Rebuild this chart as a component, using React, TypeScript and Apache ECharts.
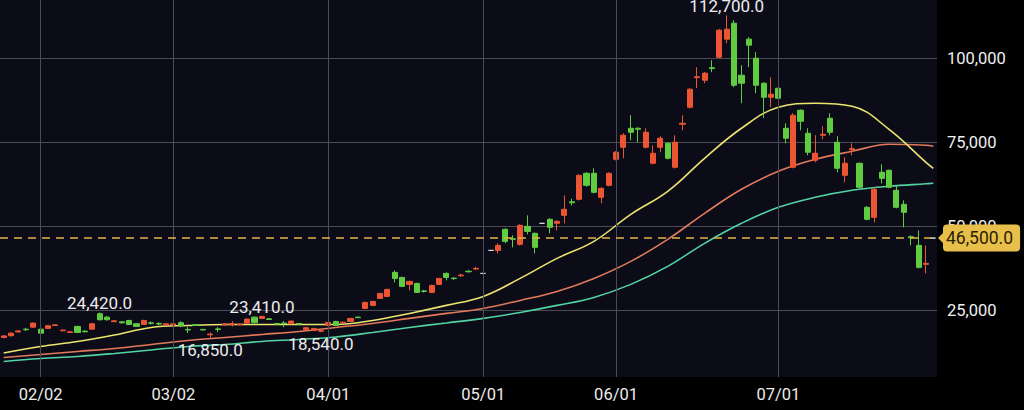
import React, { useEffect, useRef } from 'react';
import * as echarts from 'echarts';

// [open, close, low, high] per trading day
const ohlc: number[][] = [
  [16960, 17410, 16700, 17700], [17470, 18240, 17260, 18450], [18600, 18900, 18450, 19050], [19400, 19250, 18900, 19800],
  [20030, 21220, 19800, 21400], [19430, 18240, 18000, 19600], [19640, 20450, 19500, 20650], [20500, 20700, 20350, 20850],
  [18950, 19150, 18800, 19350], [18450, 18650, 18300, 18800], [20240, 18450, 18300, 20400], [18850, 18650, 18500, 19000],
  [19430, 21040, 19300, 21200], [24020, 22230, 22000, 24420], [23000, 22230, 22000, 23300], [21650, 21900, 21500, 22100],
  [21600, 21300, 21150, 21750], [22020, 20830, 20700, 22150], [21040, 20240, 20100, 21200], [20830, 22020, 20700, 22200],
  [21300, 21150, 20800, 21700], [21100, 20950, 20600, 21500], [20650, 21000, 20500, 21150], [20650, 21000, 20500, 21150],
  [21340, 20450, 20000, 21800], [19350, 19200, 18250, 20030], [20700, 20550, 20400, 20850], [19350, 19200, 19050, 19500],
  [17750, 17950, 16850, 18400], [19500, 19350, 18550, 20030], [20650, 21000, 20500, 21150], [20700, 21050, 20240, 21800],
  [20750, 20950, 20600, 21100], [21220, 22410, 21050, 22600], [23000, 21340, 21200, 23200], [22620, 23210, 22500, 23410],
  [22500, 22300, 22150, 22700], [21100, 20950, 20800, 21300], [21250, 21100, 20030, 21820], [21040, 21820, 20900, 22000],
  [21100, 20950, 20800, 21250], [19250, 19850, 19100, 20000], [19050, 19640, 18900, 19800], [18800, 18950, 18540, 19200],
  [20530, 21430, 20400, 21600], [21720, 20530, 20400, 21900], [21300, 21500, 21200, 21650], [21720, 22620, 21600, 22800],
  [23000, 22850, 22700, 23150], [25590, 27380, 25400, 27600], [26490, 27680, 26300, 27850], [28570, 30060, 28400, 30200],
  [29160, 31250, 29000, 31450], [36310, 34520, 33330, 36900], [34820, 32140, 31900, 35000], [32740, 33630, 30950, 33800],
  [33030, 30360, 30200, 33200], [30800, 30650, 30300, 31100], [30360, 32440, 30200, 32600], [32740, 34520, 32600, 34700],
  [36010, 34820, 33930, 36300], [34600, 34450, 34100, 34900], [35300, 35500, 35000, 35900], [36650, 36500, 36200, 37000],
  [37300, 37500, 37000, 38000], [36000, 36000, 35600, 36400], [42850, 42850, 42850, 42850], [42850, 44340, 41960, 44940],
  [49100, 45530, 45000, 49400], [46300, 46150, 43750, 47320], [44640, 50290, 44300, 50600], [49990, 48500, 47600, 53270],
  [47910, 43750, 41960, 48200], [50890, 50890, 50890, 50890], [52080, 49700, 47910, 52400], [50890, 51480, 48800, 51800],
  [53270, 55060, 50890, 59220], [57300, 57000, 56200, 58200], [58030, 65170, 57700, 65500], [65770, 62200, 61800, 66100],
  [65770, 60120, 59800, 67260], [58630, 61310, 56840, 61600], [62200, 65770, 61900, 66100], [69940, 72020, 69600, 72400],
  [73510, 77080, 70230, 77670], [79160, 77970, 75590, 83030], [79160, 78860, 75000, 79460], [73510, 77970, 73200, 79160],
  [68750, 71720, 68400, 74100], [73510, 76190, 72020, 76780], [74700, 70230, 69900, 75000], [67560, 75000, 67200, 77080],
  [80350, 80650, 78570, 83030], [85410, 90770, 85000, 91100], [94200, 94500, 91070, 97320], [93450, 95530, 92550, 95900],
  [97160, 96900, 95830, 99400], [100290, 108330, 100000, 108700], [105650, 108620, 104460, 112700], [110410, 91960, 91360, 111300],
  [94930, 92550, 86600, 97910], [105650, 103860, 97320, 106240], [99990, 91960, 89580, 101780], [92550, 88390, 82140, 92850],
  [88390, 89280, 85410, 94340], [91070, 88090, 85410, 92850], [79160, 76190, 74700, 80650], [67560, 83030, 67260, 83630],
  [84520, 81240, 78570, 84800], [77670, 72020, 71130, 79160], [69640, 71720, 69040, 77080], [77080, 77370, 75890, 79760],
  [82140, 77970, 77080, 83630], [75000, 67260, 66070, 76780], [65170, 68750, 63090, 70530], [72800, 73100, 71130, 74700],
  [68750, 61600, 61300, 69000], [55650, 52080, 51800, 56000], [52680, 61010, 51190, 61600], [66070, 64280, 62790, 68450],
  [66660, 61600, 61300, 66900], [60710, 55650, 55350, 62200], [56540, 54160, 49700, 57730], [46900, 46600, 44340, 47320],
  [44340, 37800, 37500, 48800], [38700, 39000, 36000, 44340], [46500, 46500, 46500, 46500],
];

const tickIndex = [5, 23, 44, 65, 83, 105];
const tickLabels = ['02/02', '03/02', '04/01', '05/01', '06/01', '07/01'];
const yTicks = [25000, 50000, 75000, 100000];

// moving averages: [candle index, value]
const maShort: number[][] = [
  [0, 12350], [5, 14290], [10, 15770], [15, 17700], [20, 19940], [25, 20530], [30, 20830], [35, 20830], [40, 20830],
  [45, 20830], [50, 22020], [55, 24100], [60, 26490], [65, 29160], [70, 34520], [75, 40470], [80, 45530], [85, 53570],
  [90, 60410], [95, 70230], [100, 79160], [105, 85410], [110, 86600], [115, 85710], [120, 78860], [125, 69040], [126, 67260],
];
const maMid: number[][] = [
  [0, 11010], [5, 11900], [10, 12800], [15, 13690], [20, 14880], [25, 16070], [30, 16960], [35, 17860], [40, 18750],
  [45, 19940], [50, 21130], [55, 22620], [60, 24110], [65, 25590], [70, 27970], [75, 30650], [80, 34520], [85, 39580],
  [90, 46130], [95, 53870], [100, 61010], [105, 66370], [110, 69940], [115, 72320], [120, 74400], [125, 74100], [126, 73810],
];
const maLong: number[][] = [
  [0, 9820], [5, 10710], [10, 11310], [15, 12200], [20, 13240], [25, 14290], [30, 14880], [35, 15770], [40, 16370],
  [45, 17110], [50, 18450], [55, 19940], [60, 21280], [65, 22620], [70, 24400], [75, 26490], [80, 28870], [85, 32740],
  [90, 38090], [95, 44940], [100, 50890], [105, 55650], [110, 58630], [115, 60710], [120, 61900], [125, 62650], [126, 62790],
];

const peakIdx = [13, 35, 98];
const troughIdx = [28, 43];
const lastPrice = 46500;

const categories = ohlc.map((_, i) => String(i));

const FONT = 'Roboto, "Liberation Sans", Arial, sans-serif';
const UP = '#ec5533';
const DOWN = '#5fcc42';
const DOJI = '#dcdcdc';
const TAG = '#e9bf4b';
const GRIDLINE = '#4c4c55';

const fmt1 = (v: number) => v.toLocaleString('en-US', { minimumFractionDigits: 1, maximumFractionDigits: 1 });

export default function App() {
  const ref = useRef<HTMLDivElement>(null);

  useEffect(() => {
    if (!ref.current) return;
    const chart = echarts.init(ref.current, undefined, { renderer: 'svg' });

    const candleData = ohlc.map((d) =>
      d[0] === d[1]
        ? {
            value: d,
            itemStyle: { color: DOJI, color0: DOJI, borderColor: DOJI, borderColor0: DOJI, borderColorDoji: DOJI },
          }
        : d
    );

    const option: any = {
      animation: false,
      backgroundColor: '#000000',
      textStyle: { fontFamily: FONT },
      grid: {
        left: 0, top: 0, right: 87, bottom: 33,
        show: true, backgroundColor: '#0c0c19', borderWidth: 0,
      },
      xAxis: {
        type: 'category',
        data: categories,
        boundaryGap: true,
        axisLine: { show: false },
        axisTick: { show: false },
        splitLine: { show: false },
        axisLabel: {
          interval: (i: number) => tickIndex.includes(i),
          formatter: (v: string) => {
            const k = tickIndex.indexOf(Number(v));
            return k >= 0 ? tickLabels[k] : '';
          },
          color: '#ececec',
          fontSize: 16.5,
          margin: 9,
          fontFamily: FONT,
        },
      },
      yAxis: {
        type: 'value',
        position: 'right',
        min: 5200,
        max: 117300,
        minInterval: 25000,
        maxInterval: 25000,
        axisLine: { show: false },
        axisTick: { show: false },
        splitLine: {
          show: true,
          showMinLine: false,
          showMaxLine: false,
          lineStyle: { color: GRIDLINE, width: 1 },
        },
        axisLabel: {
          formatter: (v: number) => (yTicks.includes(v) ? v.toLocaleString('en-US') : ''),
          color: '#f0f0f0',
          fontSize: 16.5,
          margin: 10,
          fontFamily: FONT,
        },
      },
      series: [
        {
          type: 'line',
          data: [],
          z: 1,
          silent: true,
          markLine: {
            silent: true,
            symbol: ['none', 'none'],
            label: { show: false },
            lineStyle: { color: GRIDLINE, width: 1, type: 'solid' },
            data: tickIndex.map((i) => ({ xAxis: String(i) })),
          },
        },
        {
          type: 'line', data: maLong, smooth: 0.4, symbol: 'none', z: 2, silent: true,
          lineStyle: { color: '#52d3a2', width: 1.6 },
        },
        {
          type: 'line', data: maMid, smooth: 0.4, symbol: 'none', z: 2, silent: true,
          lineStyle: { color: '#e27a5a', width: 1.6 },
        },
        {
          type: 'line', data: maShort, smooth: 0.4, symbol: 'none', z: 2, silent: true,
          lineStyle: { color: '#ebe56e', width: 1.6 },
        },
        {
          type: 'candlestick',
          data: candleData,
          barWidth: '76%',
          z: 3,
          itemStyle: { color: UP, color0: DOWN, borderColor: UP, borderColor0: DOWN, borderColorDoji: DOJI, borderWidth: 1 },
          markPoint: {
            symbol: 'circle',
            symbolSize: 1,
            itemStyle: { color: 'rgba(0,0,0,0)' },
            label: { color: '#ececec', fontSize: 17, fontFamily: FONT },
            data: [
              ...peakIdx.map((i) => ({
                coord: [String(i), ohlc[i][3]],
                value: ohlc[i][3],
                label: { position: 'top', distance: 0, formatter: fmt1(ohlc[i][3]) },
              })),
              ...troughIdx.map((i) => ({
                coord: [String(i), ohlc[i][2]],
                value: ohlc[i][2],
                label: { position: 'bottom', distance: 3, formatter: fmt1(ohlc[i][2]) },
              })),
            ],
          },
        },
        {
          type: 'line',
          data: [],
          z: 5,
          silent: true,
          markLine: {
            silent: true,
            symbol: ['none', 'none'],
            lineStyle: { color: '#e3b544', width: 1.5, type: [8, 6] },
            label: {
              show: true,
              position: 'end',
              distance: 6,
              formatter: fmt1(lastPrice),
              backgroundColor: TAG,
              color: '#2a1e00',
              fontSize: 17.5,
              fontFamily: FONT,
              padding: [5, 7, 4, 3],
              borderRadius: 4,
            },
            data: [{ yAxis: lastPrice }],
          },
        },
      ],
    };

    chart.setOption(option);

    const y = chart.convertToPixel({ yAxisIndex: 0 }, lastPrice) as number;
    const xEdge = 1024 - 87;
    chart.setOption({
      graphic: [
        {
          type: 'polygon',
          z: 100,
          silent: true,
          shape: { points: [[xEdge + 1, y], [xEdge + 7, y - 6], [xEdge + 7, y + 6]] },
          style: { fill: TAG },
        },
      ],
    });

    return () => chart.dispose();
  }, []);

  return (
    <div
      ref={ref}
      style={{ position: 'absolute', left: 0, top: 0, width: 1024, height: 410, background: '#000' }}
    />
  );
}
